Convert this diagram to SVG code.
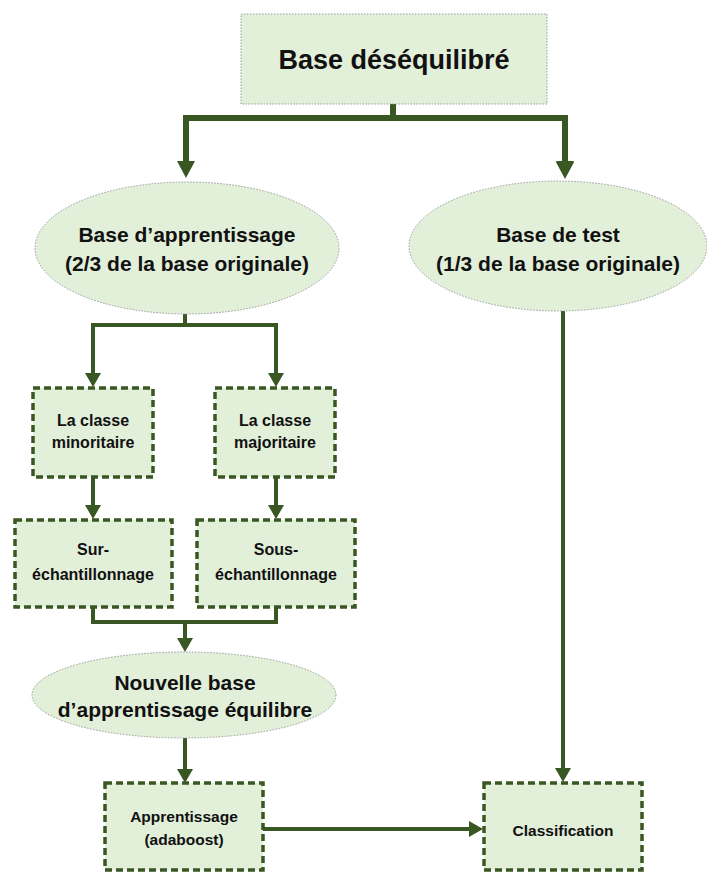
<svg xmlns="http://www.w3.org/2000/svg" width="707" height="872" viewBox="0 0 707 872">
<style>
  .bg { fill: #ffffff; }
  .soft { fill: #e2efd9; stroke: #9a9a9a; stroke-width: 1; stroke-dasharray: 1.5 1.5; }
  .box { fill: #e2efd9; stroke: #385723; stroke-width: 3.5; stroke-dasharray: 7 4; }
  .wire { fill: none; stroke: #385723; stroke-linejoin: miter; }
  .thick { stroke-width: 6; }
  .thin { stroke-width: 4; }
  text { font-family: "Liberation Sans", Arial, sans-serif; font-weight: bold; fill: #111111; text-anchor: middle; }
  .t27 { font-size: 27px; }
  .t21 { font-size: 21px; }
  .t16 { font-size: 16px; }
  .t15 { font-size: 15.5px; }
</style>
<defs>
  <marker id="ahBig" viewBox="0 0 17 18" refX="0" refY="9" markerWidth="17" markerHeight="18" markerUnits="userSpaceOnUse" orient="auto">
    <path d="M0,0 L17,9 L0,18 z" fill="#385723"/>
  </marker>
  <marker id="ahSmall" viewBox="0 0 14 16" refX="0" refY="8" markerWidth="14" markerHeight="16" markerUnits="userSpaceOnUse" orient="auto">
    <path d="M0,0 L14,8 L0,16 z" fill="#385723"/>
  </marker>
</defs>
<rect class="bg" x="0" y="0" width="707" height="872"/>

<g id="connectors">
  <path class="wire thick" d="M393,104 V118"/>
  <path class="wire thick" d="M186,161 V118 H565 V162" marker-end="url(#ahBig)"/>
  <path class="wire thick" d="M565,118 V161" marker-end="url(#ahBig)"/>
  <path class="wire thick" d="M186,118 V161" marker-end="url(#ahBig)"/>
  <path class="wire thin" d="M185,314 V325"/>
  <path class="wire thin" d="M93,373 V325 H276 V373"/>
  <path class="wire thin" d="M93,325 V373" marker-end="url(#ahSmall)"/>
  <path class="wire thin" d="M276,325 V373" marker-end="url(#ahSmall)"/>
  <path class="wire thin" d="M93,477 V505" marker-end="url(#ahSmall)"/>
  <path class="wire thin" d="M276,477 V505" marker-end="url(#ahSmall)"/>
  <path class="wire thin" d="M93,607 V622 H276 V607"/>
  <path class="wire thin" d="M185,622 V638" marker-end="url(#ahSmall)"/>
  <path class="wire thin" d="M185,738 V769" marker-end="url(#ahSmall)"/>
  <path class="wire thin" d="M263,829 H469" marker-end="url(#ahSmall)"/>
  <path class="wire thin" d="M563,311 V768" marker-end="url(#ahSmall)"/>
</g>

<g id="node-base-desequilibre">
  <rect class="soft" x="241" y="14" width="306" height="90"/>
  <text class="t27" x="394" y="69">Base déséquilibré</text>
</g>

<g id="node-base-apprentissage">
  <ellipse class="soft" cx="187" cy="248" rx="152" ry="66"/>
  <text class="t21" x="187" y="242">Base d’apprentissage</text>
  <text class="t21" x="187" y="271">(2/3 de la base originale)</text>
</g>

<g id="node-base-test">
  <ellipse class="soft" cx="558" cy="246" rx="149" ry="65"/>
  <text class="t21" x="558" y="242">Base de test</text>
  <text class="t21" x="558" y="271">(1/3 de la base originale)</text>
</g>

<g id="node-classe-minoritaire">
  <rect class="box" x="33" y="388" width="120" height="89"/>
  <text class="t16" x="93" y="426">La classe</text>
  <text class="t16" x="93" y="448">minoritaire</text>
</g>

<g id="node-classe-majoritaire">
  <rect class="box" x="215" y="388" width="120" height="89"/>
  <text class="t16" x="275" y="426">La classe</text>
  <text class="t16" x="275" y="448">majoritaire</text>
</g>

<g id="node-sur-echantillonnage">
  <rect class="box" x="15" y="520" width="157" height="87"/>
  <text class="t16" x="93" y="555">Sur-</text>
  <text class="t16" x="93" y="580">échantillonnage</text>
</g>

<g id="node-sous-echantillonnage">
  <rect class="box" x="197" y="520" width="158" height="87"/>
  <text class="t16" x="276" y="555">Sous-</text>
  <text class="t16" x="276" y="580">échantillonnage</text>
</g>

<g id="node-nouvelle-base">
  <ellipse class="soft" cx="184" cy="695" rx="152" ry="43"/>
  <text class="t21" x="185" y="690">Nouvelle base</text>
  <text class="t21" x="185" y="717">d’apprentissage équilibre</text>
</g>

<g id="node-apprentissage">
  <rect class="box" x="105" y="783" width="158" height="87"/>
  <text class="t15" x="184" y="822">Apprentissage</text>
  <text class="t15" x="184" y="845">(adaboost)</text>
</g>

<g id="node-classification">
  <rect class="box" x="484" y="783" width="158" height="87"/>
  <text class="t15" x="563" y="836">Classification</text>
</g>
</svg>
